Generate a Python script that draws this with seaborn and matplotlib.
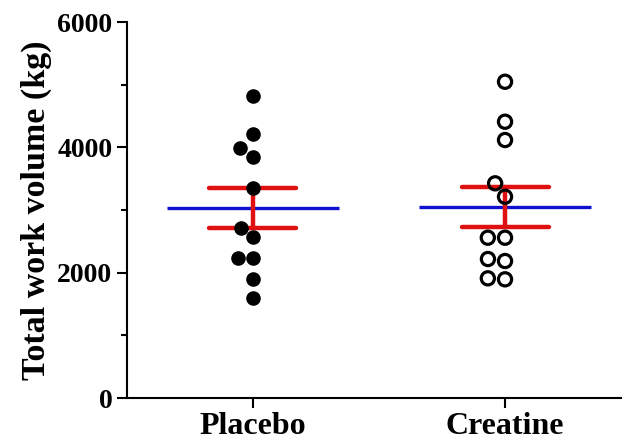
import pandas as pd
import seaborn as sns
import matplotlib.pyplot as plt
from matplotlib.ticker import MultipleLocator

# Values (kg)
groups = ['Placebo', 'Creatine']
placebo = [4824, 4208, 3984, 3851, 3346, 2708, 2564, 2229, 2229, 1894, 1591]
creatine = [5047, 4409, 4117, 3426, 3212, 2558, 2558, 2186, 2218, 1894, 1910]
yticks = [0, 2000, 4000, 6000]

df = pd.DataFrame({
    'Group': ['Placebo'] * len(placebo) + ['Creatine'] * len(creatine),
    'Volume': placebo + creatine,
})

sns.set_style("ticks")
plt.rcParams['font.family'] = ['Liberation Serif', 'DejaVu Serif']
plt.rcParams['font.weight'] = 'bold'
plt.rcParams['text.color'] = 'black'
plt.rcParams['axes.labelcolor'] = 'black'
plt.rcParams['axes.edgecolor'] = 'black'
plt.rcParams['xtick.color'] = 'black'
plt.rcParams['ytick.color'] = 'black'

fig = plt.figure(figsize=(6.22, 4.46), dpi=100)
ax = fig.add_axes([0.204, 0.1076, 0.796, 0.843])

# mean line (blue)
sns.pointplot(data=df, x='Group', y='Volume', order=groups, errorbar=None,
              color='#1010d0', markers='_', markersize=124, markeredgewidth=2.4,
              linestyle='none', ax=ax)
# SEM bars (red)
sns.pointplot(data=df, x='Group', y='Volume', order=groups, errorbar='se',
              capsize=0.345, color='#e01010', markersize=0, linestyle='none',
              err_kws={'linewidth': 3.2}, ax=ax)

# individual points
sns.swarmplot(data=df[df['Group'] == 'Placebo'], x='Group', y='Volume', order=groups,
              color='black', size=10.5, linewidth=0, zorder=4, ax=ax)
sns.swarmplot(data=df[df['Group'] == 'Creatine'], x='Group', y='Volume', order=groups,
              color='black', size=9.5, linewidth=2.3, edgecolor='black', zorder=4, ax=ax)
ax.collections[-1].set_facecolor('none')

ax.set_xlim(-0.5, 1.464)
ax.set_ylim(0, 6000)
ax.set_yticks(yticks)
ax.yaxis.set_minor_locator(MultipleLocator(1000))
ax.set_xlabel('')
ax.set_ylabel('Total work volume (kg)', fontsize=24.5, fontweight='bold', labelpad=4)
ax.tick_params(axis='y', which='major', length=7, width=1.5, labelsize=20)
ax.tick_params(axis='y', which='minor', length=4, width=1.5)
ax.tick_params(axis='x', length=7, width=1.5, labelsize=23, pad=3)
for lbl in ax.get_xticklabels() + ax.get_yticklabels():
    lbl.set_fontweight('bold')
sns.despine(ax=ax)
for s in ['left', 'bottom']:
    ax.spines[s].set_linewidth(1.5)

plt.savefig('out.png', dpi=100)
